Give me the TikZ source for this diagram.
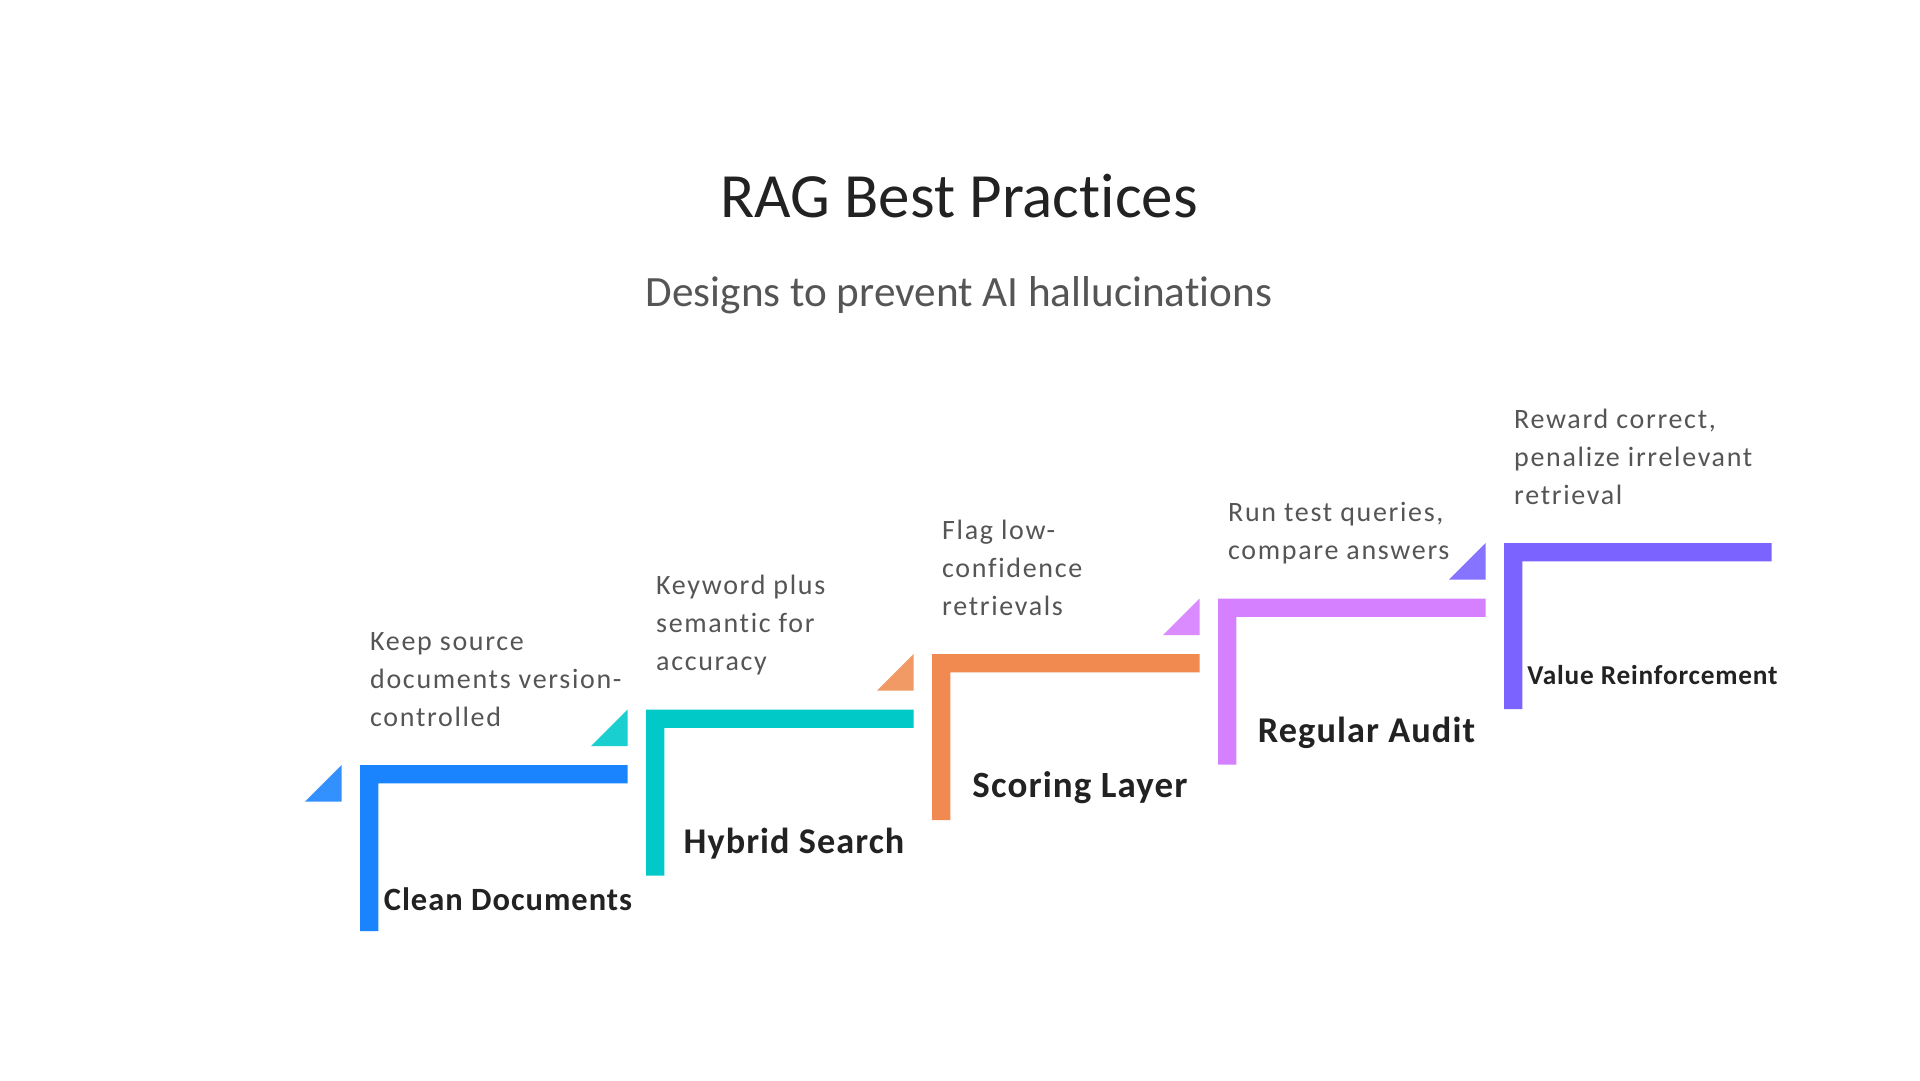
\documentclass[tikz,border=0pt]{standalone}
\usepackage{fontspec}
\setmainfont{Carlito}[Ligatures=NoCommon]
\newfontfamily\descfont[LetterSpace=6,Ligatures=NoCommon]{Carlito}
\newfontfamily\stepfont[LetterSpace=3,Ligatures=NoCommon]{Carlito}
\definecolor{cBlue}{HTML}{1A84FF}
\definecolor{cBlueT}{HTML}{3391FF}
\definecolor{cTeal}{HTML}{00C9C8}
\definecolor{cTealT}{HTML}{1ACFCF}
\definecolor{cOrange}{HTML}{F08A50}
\definecolor{cOrangeT}{HTML}{F29A66}
\definecolor{cPink}{HTML}{D580FF}
\definecolor{cPinkT}{HTML}{D98BFF}
\definecolor{cViolet}{HTML}{7A63FF}
\definecolor{cVioletT}{HTML}{8673FF}
\definecolor{txtDark}{HTML}{222222}
\definecolor{txtGray}{HTML}{555555}
\newcommand{\ragL}[3]{%
  \fill[#3] (#1,#2) -- ++(267.7,0) -- ++(0,18.3) -- ++(-249.4,0) -- ++(0,147.7) -- ++(-18.3,0) -- cycle;}
\newcommand{\ragT}[3]{%
  \fill[#3] (#1-55,#2+36.7) -- (#1-18.3,#2+36.7) -- (#1-18.3,#2) -- cycle;}
\tikzset{
  desc/.style={anchor=base west, inner sep=0pt, align=left, text=txtGray,
    font=\descfont\fontsize{28}{38}\selectfont},
  steptitle/.style={anchor=base, inner sep=0pt, text=txtDark, font=\stepfont\bfseries\fontsize{#1}{#1}\selectfont},
}
\begin{document}
\begin{tikzpicture}[x=1pt,y=-1pt]
\useasboundingbox (0,0) rectangle (1920,1080);
\fill[white] (0,0) rectangle (1920,1080);
\node[anchor=base, inner sep=0pt, text=txtDark, font=\fontsize{63}{70}\selectfont] (title) at (959,217) {RAG Best Practices};
\node[anchor=base, inner sep=0pt, text=txtGray, font=\fontsize{43.2}{48}\selectfont] (subtitle) at (959,306) {Designs to prevent AI hallucinations};
% step 1
\ragT{360}{765}{cBlueT}
\ragL{360}{765}{cBlue}
\node[desc] (d1) at (370,726) {Keep source\\documents version-\\controlled};
\node[steptitle=32.5] (t1) at (508,910) {Clean Documents};
% step 2
\ragT{646}{709.5}{cTealT}
\ragL{646}{709.5}{cTeal}
\node[desc] (d2) at (656,670.5) {Keyword plus\\semantic for\\accuracy};
\node[steptitle=36.2] (t2) at (794,853) {Hybrid Search};
% step 3
\ragT{932}{654}{cOrangeT}
\ragL{932}{654}{cOrange}
\node[desc] (d3) at (942,615) {Flag low-\\confidence\\retrievals};
\node[steptitle=37] (t3) at (1080,797.5) {Scoring Layer};
% step 4
\ragT{1218}{598.5}{cPinkT}
\ragL{1218}{598.5}{cPink}
\node[desc] (d4) at (1228,559.5) {Run test queries,\\compare answers};
\node[steptitle=36.3] (t4) at (1366.5,742) {Regular Audit};
% step 5
\ragT{1504}{543}{cVioletT}
\ragL{1504}{543}{cViolet}
\node[desc] (d5) at (1514,504) {Reward correct,\\penalize irrelevant\\retrieval};
\node[steptitle=27.3] (t5) at (1652.5,684) {Value Reinforcement};
\end{tikzpicture}
\end{document}
